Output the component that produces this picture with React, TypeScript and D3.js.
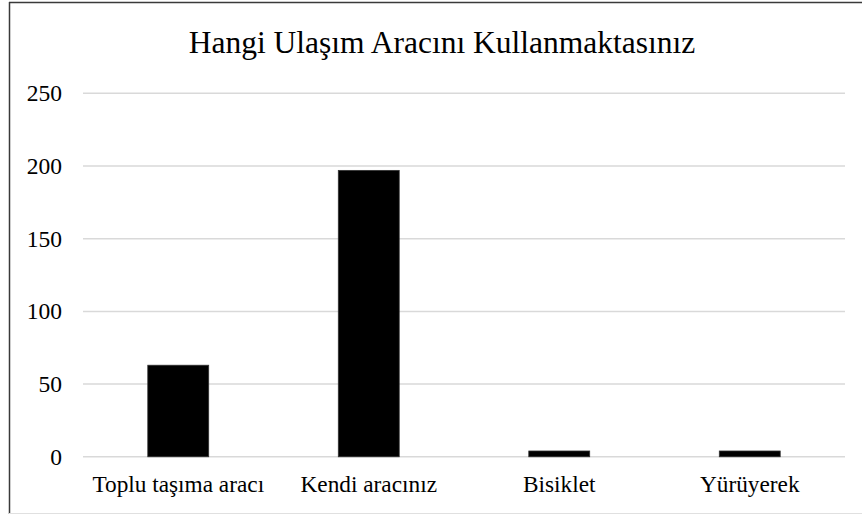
import React from "react";
import * as d3 from "d3";

const title = "Hangi Ulaşım Aracını Kullanmaktasınız";
const categories = ["Toplu taşıma aracı", "Kendi aracınız", "Bisiklet", "Yürüyerek"];
const values = [63, 197, 4, 4];
const yTicks = [0, 50, 100, 150, 200, 250];

const W = 862;
const H = 515;
const FONT = "Liberation Serif";

export default function App() {
  const x = d3
    .scaleBand<string>()
    .domain(categories)
    .range([83, 845])
    .paddingInner(0.68)
    .paddingOuter(0.34);
  const y = d3.scaleLinear().domain([0, 250]).range([456.8, 93.3]);

  return (
    <svg
      width={W}
      height={H}
      style={{ position: "fixed", left: 0, top: 0, background: "#fff" }}
    >
      <rect x={0} y={0} width={W} height={H} fill="#fff" />
      {/* chart border (cropped) */}
      <line x1={9} y1={2.5} x2={W} y2={2.5} stroke="#3a3a3a" strokeWidth={1.5} />
      <line x1={9.5} y1={2} x2={9.5} y2={514} stroke="#3a3a3a" strokeWidth={1.5} />
      <line x1={9} y1={513.5} x2={W} y2={513.5} stroke="#e0e0e0" strokeWidth={1} />

      <text
        x={442}
        y={53}
        textAnchor="middle"
        style={{ fontFamily: FONT }}
        fontSize={31.5}
        fill="#000"
      >
        {title}
      </text>

      {yTicks.map((t) => (
        <g key={t}>
          <line
            x1={83}
            x2={845}
            y1={y(t)}
            y2={y(t)}
            stroke="#d9d9d9"
            strokeWidth={1.5}
          />
          <text
            x={62}
            y={y(t) + 8}
            textAnchor="end"
            style={{ fontFamily: FONT }}
            fontSize={23.5}
            fill="#000"
          >
            {t}
          </text>
        </g>
      ))}

      {categories.map((c, i) => (
        <rect
          key={c}
          x={x(c)!}
          y={y(values[i])}
          width={x.bandwidth()}
          height={y(0) - y(values[i])}
          fill="#000"
          stroke="#333"
          strokeWidth={0.75}
        />
      ))}

      {categories.map((c) => (
        <text
          key={c + "l"}
          x={x(c)! + x.bandwidth() / 2}
          y={492}
          textAnchor="middle"
          style={{ fontFamily: FONT }}
          fontSize={23.3}
          fill="#000"
        >
          {c}
        </text>
      ))}
    </svg>
  );
}
